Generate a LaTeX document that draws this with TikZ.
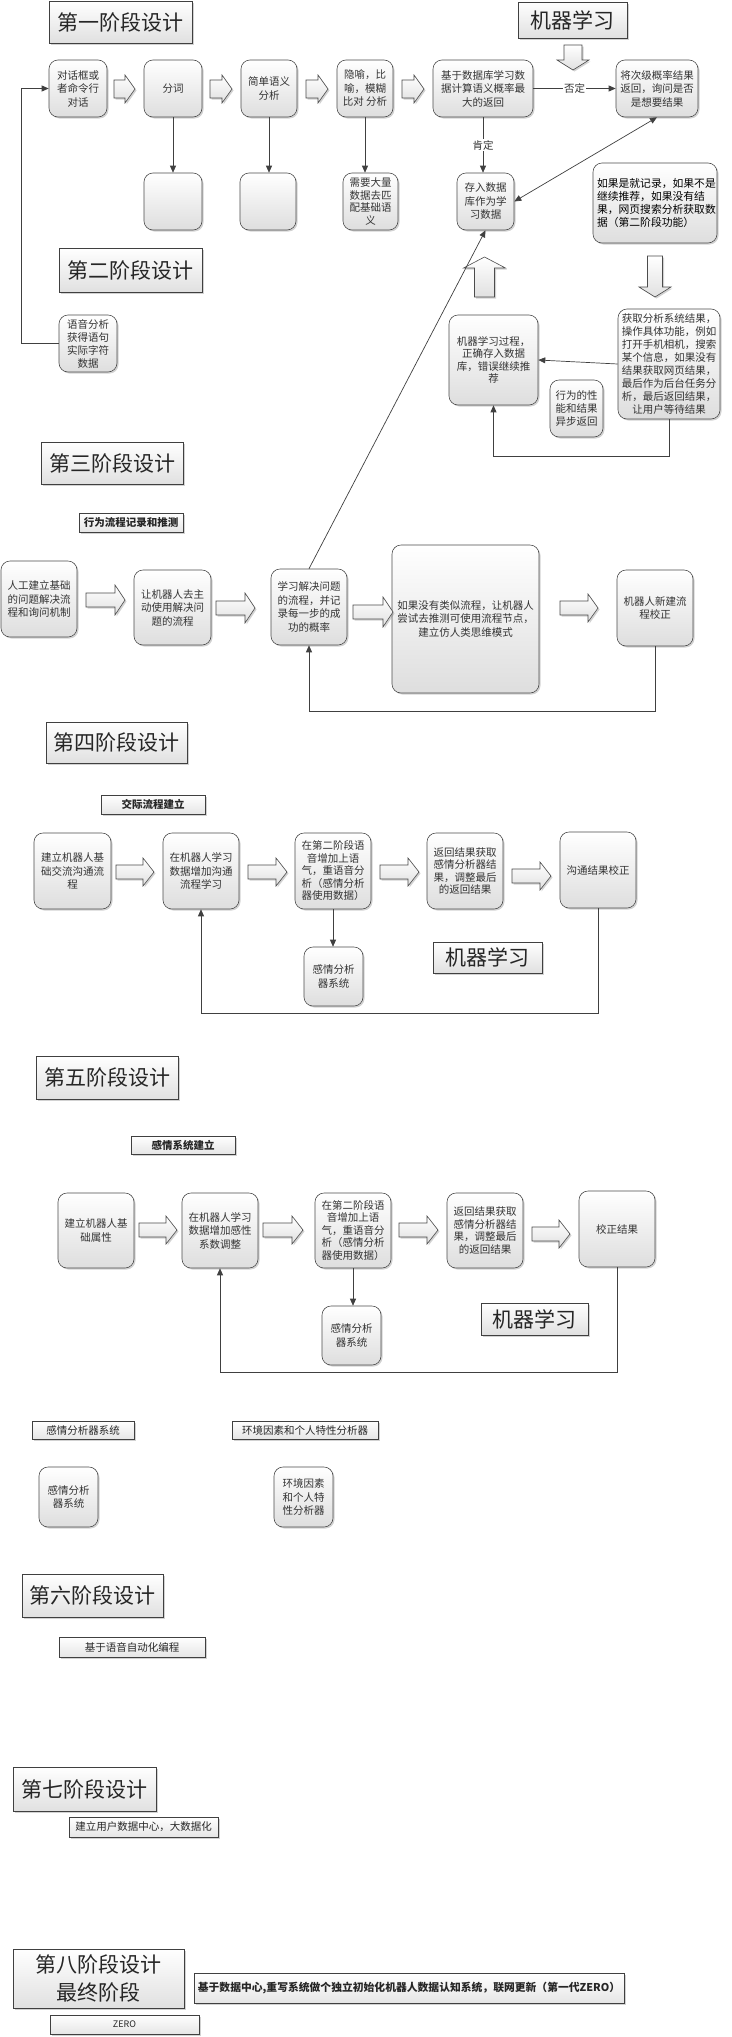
\documentclass[tikz,border=0pt]{standalone}
\usepackage{fontspec}
\newfontfamily\cjk{Noto Sans CJK SC}
\usetikzlibrary{arrows.meta,shadows}
\tikzset{
  shd/.style={drop shadow={shadow xshift=1.5pt,shadow yshift=-1.5pt,opacity=0.35}},
  rbox/.style={rectangle,rounded corners=9pt,draw=black!70,line width=0.6pt,top color=white,bottom color=black!13,shd,align=center,font=\cjk\fontsize{10.5}{13.5}\selectfont,text=black!80,inner sep=2pt},
  ttl/.style={rectangle,draw=black!75,line width=0.6pt,top color=white,bottom color=black!12,shd,align=center,font=\cjk\fontsize{21}{28}\selectfont,text=black!85,inner sep=2pt},
  lbl/.style={rectangle,draw=black!75,line width=0.6pt,top color=white,bottom color=black!10,shd,align=center,font=\cjk\fontsize{10.5}{12}\selectfont,text=black!85,inner sep=1pt},
  blbl/.style={lbl,font=\cjk\bfseries\fontsize{10.5}{12}\selectfont},
  conn/.style={draw=black!75,line width=0.7pt},
  arr/.style={conn,-{Triangle[length=7pt,width=6pt]}},
  darr/.style={conn,{Triangle[length=7pt,width=6pt]}-{Triangle[length=7pt,width=6pt]}},
  elab/.style={fill=white,inner sep=1pt,font=\cjk\fontsize{10.5}{12}\selectfont,text=black!80},
  barrow/.style={draw=black!70,line width=0.6pt,top color=white,bottom color=black!12,shd},
}
% box: [style]{name}{x1}{y1}{x2}{y2}{text}
\newcommand\mybox[7][rbox]{%
  \pgfmathsetmacro\mbW{#5-#3}\pgfmathsetmacro\mbH{#6-#4}%
  \pgfmathsetmacro\mbX{(#3+#5)/2}\pgfmathsetmacro\mbY{(#4+#6)/2}%
  \node[#1,minimum width=\mbW pt,minimum height=\mbH pt] (#2) at (\mbX,\mbY) {#7};}
% right block arrow: x1 x2 yc bodyhalf headhalf headlen
\newcommand\blkR[6]{\path[barrow] (#1,{#3-#4}) -- ({#2-#6},{#3-#4}) -- ({#2-#6},{#3-#5}) -- (#2,#3) -- ({#2-#6},{#3+#5}) -- ({#2-#6},{#3+#4}) -- (#1,{#3+#4}) -- cycle;}
% down block arrow: xc y1 y2(tip) bodyhalf headhalf headlen
\newcommand\blkD[6]{\path[barrow] ({#1-#4},#2) -- ({#1+#4},#2) -- ({#1+#4},{#3-#6}) -- ({#1+#5},{#3-#6}) -- (#1,#3) -- ({#1-#5},{#3-#6}) -- ({#1-#4},{#3-#6}) -- cycle;}
% up block arrow: xc y1(tip) y2 bodyhalf headhalf headlen
\newcommand\blkU[6]{\path[barrow] (#1,#2) -- ({#1+#5},{#2+#6}) -- ({#1+#4},{#2+#6}) -- ({#1+#4},#3) -- ({#1-#4},#3) -- ({#1-#4},{#2+#6}) -- ({#1-#5},{#2+#6}) -- cycle;}
\begin{document}
\begin{tikzpicture}[x=1pt,y=-1pt]
\fill[white] (0,0) rectangle (731,2037);
\useasboundingbox (0,0) rectangle (731,2037);

% ---------- Stage 1 ----------
\mybox[ttl]{t1}{49}{1}{192}{43}{第一阶段设计}
\mybox[ttl]{tml1}{518}{2}{627}{38}{机器学习}
\mybox{n11}{49}{60}{107}{117}{对话框或\\者命令行\\对话}
\mybox{n12}{144}{60}{202}{117}{分词}
\mybox{n13}{241}{60}{297}{117}{简单语义\\分析}
\mybox{n14}{337}{60}{393}{117}{隐喻，比\\喻，模糊\\比对 分析}
\mybox{n12b}{144}{173}{202}{230}{}
\mybox{n13b}{240}{173}{296}{230}{}
\mybox[rbox,font=\cjk\fontsize{10.5}{12.5}\selectfont]{n14b}{343}{173}{398}{230}{需要大量\\数据去匹\\配基础语\\义}
\mybox{n15}{433}{60}{533}{117}{基于数据库学习数\\据计算语义概率最\\大的返回}
\mybox{n16}{616}{60}{698}{117}{将次级概率结果\\返回，询问是否\\是想要结果}
\mybox{n17}{457}{173}{514}{230}{存入数据\\库作为学\\习数据}
\mybox[rbox,text width=116pt,align=left,text=black,font=\cjk\fontsize{10.8}{12.8}\selectfont]{n18}{593}{163}{717}{243}{如果是就记录，如果不是\\继续推荐，如果没有结\\果，网页搜索分析获取数\\据（第二阶段功能）\\[12pt]}

\blkR{114}{135}{89}{9}{14}{10}
\blkR{210}{232}{89}{9}{14}{10}
\blkR{306}{328}{89}{9}{14}{10}
\blkR{402}{424}{89}{9}{14}{10}
\blkD{573}{45}{70}{9}{16}{10}

\draw[arr] (n12.south) -- (n12.south |- n12b.north);
\draw[arr] (n13.south) -- (n13.south |- n13b.north);
\draw[arr] (n14.south) -- (n14.south |- n14b.north);
\draw[arr] (n15.east) -- node[elab]{否定} (n16.west);
\draw[arr] (n15.south) -- node[elab]{肯定} (n15.south |- n17.north);
\draw[darr] (n16.south) -- (n17.east);

% ---------- Stage 2 ----------
\mybox[ttl]{t2}{59}{248}{202}{292}{第二阶段设计}
\mybox[rbox,font=\cjk\fontsize{10.5}{13}\selectfont]{n21}{59}{315}{117}{372}{语音分析\\获得语句\\实际字符\\数据}
\draw[arr] (n21.west) -- ++(-37,0) |- (n11.west);

\mybox[rbox,font=\cjk\fontsize{10.5}{12.5}\selectfont]{n31}{449}{315}{538}{405}{机器学习过程，\\正确存入数据\\库，错误继续推\\荐}
\mybox[rbox,font=\cjk\fontsize{10.5}{13}\selectfont]{n32}{618}{309}{720}{419}{获取分析系统结果，\\操作具体功能，例如\\打开手机相机，搜索\\某个信息，如果没有\\结果获取网页结果，\\最后作为后台任务分\\析，最后返回结果，\\让用户等待结果}
\mybox[rbox,font=\cjk\fontsize{10.5}{13}\selectfont]{n33}{550}{380}{603}{437}{行为的性\\能和结果\\异步返回}
\blkU{484.5}{257}{297}{10}{21}{11}
\blkD{655}{256}{297}{7.5}{16}{10}
\draw[arr] (n32.west) -- (n31.east);
\draw[arr] (n32.south) -- ++(0,37) -| (n31.south);

% ---------- Stage 3 ----------
\mybox[ttl]{t3}{41}{442}{183}{484}{第三阶段设计}
\mybox[blbl]{l3}{79}{513}{183}{532}{行为流程记录和推测}
\mybox{n41}{1}{561}{77}{637}{人工建立基础\\的问题解决流\\程和询问机制}
\mybox{n42}{134}{570}{211}{645}{让机器人去主\\动使用解决问\\题的流程}
\mybox{n43}{271}{569}{347}{645}{学习解决问题\\的流程，并记\\录每一步的成\\功的概率}
\mybox{n44}{392}{545}{539}{693}{如果没有类似流程，让机器人\\尝试去推测可使用流程节点，\\建立仿人类思维模式}
\mybox{n45}{617}{570}{693}{646}{机器人新建流\\程校正}
\blkR{86}{125}{600}{7}{15}{10}
\blkR{216}{255}{608}{7}{15}{10}
\blkR{353}{393}{612}{7}{15}{10}
\blkR{560}{598}{608}{7}{14}{10}
\draw[arr] (n45.south) -- ++(0,65) -| (n43.south);
\draw[arr] (n43.north) -- (n17.south);

% ---------- Stage 4 ----------
\mybox[ttl]{t4}{46}{722}{187}{763}{第四阶段设计}
\mybox[blbl]{l4}{101}{795}{205}{814}{交际流程建立}
\mybox{n51}{34}{833}{111}{909}{建立机器人基\\础交流沟通流\\程}
\mybox{n52}{163}{833}{239}{909}{在机器人学习\\数据增加沟通\\流程学习}
\mybox[rbox,font=\cjk\fontsize{10.5}{12.5}\selectfont]{n53}{295}{833}{371}{909}{在第二阶段语\\音增加上语\\气，重语音分\\析（感情分析\\器使用数据）}
\mybox[rbox,font=\cjk\fontsize{10.5}{12.5}\selectfont]{n54}{427}{833}{503}{909}{返回结果获取\\感情分析器结\\果，调整最后\\的返回结果}
\mybox{n55}{560}{832}{636}{908}{沟通结果校正}
\mybox{n56}{304}{947}{363}{1006}{感情分析\\器系统}
\mybox[ttl]{tml4}{433}{942}{542}{973}{机器学习}
\blkR{116}{154}{872}{7}{14}{11}
\blkR{248}{287}{872}{7}{14}{11}
\blkR{380}{419}{872}{7}{14}{11}
\blkR{512}{551}{876}{7}{14}{11}
\draw[arr] (n53.south) -- (n53.south |- n56.north);
\draw[arr] (n55.south) -- ++(0,105) -| (n52.south);

% ---------- Stage 5 ----------
\mybox[ttl]{t5}{36}{1056}{178}{1099}{第五阶段设计}
\mybox[blbl]{l5}{131}{1136}{235}{1154}{感情系统建立}
\mybox{n61}{58}{1193}{134}{1268}{建立机器人基\\础属性}
\mybox{n62}{182}{1193}{258}{1268}{在机器人学习\\数据增加感性\\系数调整}
\mybox[rbox,font=\cjk\fontsize{10.5}{12.5}\selectfont]{n63}{315}{1193}{391}{1268}{在第二阶段语\\音增加上语\\气，重语音分\\析（感情分析\\器使用数据）}
\mybox[rbox,font=\cjk\fontsize{10.5}{12.5}\selectfont]{n64}{447}{1193}{523}{1268}{返回结果获取\\感情分析器结\\果，调整最后\\的返回结果}
\mybox{n65}{579}{1191}{655}{1267}{校正结果}
\mybox{n66}{322}{1306}{381}{1365}{感情分析\\器系统}
\mybox[ttl]{tml5}{481}{1303}{588}{1335}{机器学习}
\blkR{139}{177}{1230}{7}{14}{11}
\blkR{263}{303}{1230}{7}{14}{11}
\blkR{399}{438}{1230}{7}{14}{11}
\blkR{532}{570}{1234}{7}{14}{11}
\draw[arr] (n63.south) -- (n63.south |- n66.north);
\draw[arr] (n65.south) -- ++(0,105) -| (n62.south);

% ---------- Analyzers ----------
\mybox[lbl]{la}{32}{1421}{134}{1439}{感情分析器系统}
\mybox[lbl]{lb}{232}{1421}{378}{1439}{环境因素和个人特性分析器}
\mybox{n71}{39}{1467}{98}{1527}{感情分析\\器系统}
\mybox{n72}{274}{1467}{333}{1527}{环境因素\\和个人特\\性分析器}

% ---------- Stage 6-8 ----------
\mybox[ttl]{t6}{22}{1574}{163}{1617}{第六阶段设计}
\mybox[lbl]{l6}{59}{1637}{205}{1657}{基于语音自动化编程}
\mybox[ttl]{t7}{13}{1767}{156}{1811}{第七阶段设计}
\mybox[lbl]{l7}{69}{1817}{218}{1837}{建立用户数据中心，大数据化}
\mybox[ttl]{t8}{13}{1949}{184}{2008}{第八阶段设计\\最终阶段}
\mybox[lbl,font=\cjk\bfseries\fontsize{10.8}{12}\selectfont]{l8}{194}{1973}{624}{2003}{基于数据中心,重写系统做个独立初始化机器人数据认知系统，联网更新（第一代ZERO）}
\mybox[lbl,font=\cjk\fontsize{9}{11}\selectfont]{l9}{50}{2015}{199}{2034}{ZERO}
\end{tikzpicture}
\end{document}
